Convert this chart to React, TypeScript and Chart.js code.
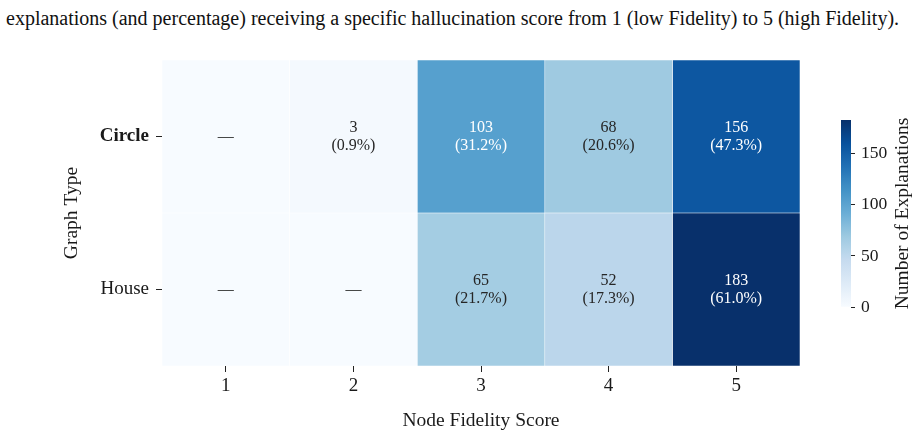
import React, { useEffect, useRef } from 'react';
import { Chart, registerables } from 'chart.js';

Chart.register(...registerables);

const caption =
  'explanations (and percentage) receiving a specific hallucination score from 1 (low Fidelity) to 5 (high Fidelity).';
const graphTypes = ['Circle', 'House'];
const scores = [1, 2, 3, 4, 5];
const circleCounts = [0, 3, 103, 68, 156];
const houseCounts = [0, 0, 65, 52, 183];
const colorbarTicks = [0, 50, 100, 150];
const xTitle = 'Node Fidelity Score';
const yTitle = 'Graph Type';
const cbTitle = 'Number of Explanations';

const rows = [circleCounts, houseCounts];
const vmax = Math.max(...rows.flat());
const totals = rows.map((r) => r.reduce((a, b) => a + b, 0));

const FONT = "'Liberation Serif', 'Times New Roman', serif";
const TEXT = '#1a1a1a';

// matplotlib "Blues" colormap control points
const BLUES = [
  [247, 251, 255],
  [222, 235, 247],
  [198, 219, 239],
  [158, 202, 225],
  [107, 174, 214],
  [66, 146, 198],
  [33, 113, 181],
  [8, 81, 156],
  [8, 48, 107],
];

function bluesRGB(t: number): number[] {
  const tt = Math.max(0, Math.min(1, t)) * (BLUES.length - 1);
  const i = Math.min(BLUES.length - 2, Math.floor(tt));
  const f = tt - i;
  return BLUES[i].map((c, k) => Math.round(c + (BLUES[i + 1][k] - c) * f));
}
function blues(t: number): string {
  const [r, g, b] = bluesRGB(t);
  return `rgb(${r},${g},${b})`;
}
function luminance(rgb: number[]): number {
  const lin = rgb.map((c) => {
    const v = c / 255;
    return v <= 0.03928 ? v / 12.92 : Math.pow((v + 0.055) / 1.055, 2.4);
  });
  return 0.2126 * lin[0] + 0.7152 * lin[1] + 0.0722 * lin[2];
}

const annotatePlugin = {
  id: 'annot',
  afterDatasetsDraw(chart: any) {
    const ctx = chart.ctx;
    ctx.save();
    ctx.font = `16px ${FONT}`;
    ctx.textAlign = 'center';
    ctx.textBaseline = 'middle';
    chart.data.datasets.forEach((_ds: any, j: number) => {
      const meta = chart.getDatasetMeta(j);
      meta.data.forEach((el: any, i: number) => {
        const { x, y, base } = el.getProps(['x', 'y', 'base'], true);
        const cx = (x + base) / 2;
        const v = rows[i][j];
        const lum = luminance(bluesRGB(v / vmax));
        ctx.fillStyle = lum > 0.408 ? '#262626' : '#ffffff';
        if (v === 0) {
          ctx.fillText('\u2014', cx, y);
        } else {
          const pct = ((v / totals[i]) * 100).toFixed(1);
          ctx.fillText(String(v), cx, y - 9);
          ctx.fillText(`(${pct}%)`, cx, y + 9);
        }
      });
    });
    ctx.restore();
  },
};

const cbTitlePlugin = {
  id: 'cbTitle',
  afterDraw(chart: any) {
    const ctx = chart.ctx;
    const area = chart.chartArea;
    ctx.save();
    ctx.font = `19.5px ${FONT}`;
    ctx.fillStyle = TEXT;
    ctx.textAlign = 'center';
    ctx.textBaseline = 'middle';
    ctx.translate(83, (area.top + area.bottom) / 2);
    ctx.rotate(-Math.PI / 2);
    ctx.fillText(cbTitle, 0, 0);
    ctx.restore();
  },
};

export default function App() {
  const mainRef = useRef<HTMLCanvasElement>(null);
  const cbRef = useRef<HTMLCanvasElement>(null);

  useEffect(() => {
    const main = new Chart(mainRef.current as HTMLCanvasElement, {
      type: 'bar',
      data: {
        labels: graphTypes,
        datasets: scores.map((s, j) => ({
          label: String(s),
          data: rows.map(() => [s - 0.5, s + 0.5]),
          backgroundColor: rows.map((r) => blues(r[j] / vmax)),
          borderColor: '#ffffff',
          borderWidth: 0.6,
          borderSkipped: false,
          grouped: false,
          barPercentage: 1,
          categoryPercentage: 1,
        })) as any,
      },
      options: {
        indexAxis: 'y',
        responsive: false,
        animation: false,
        layout: { padding: { top: 60, right: 121, bottom: 0, left: 0 } },
        plugins: {
          legend: { display: false },
          tooltip: { enabled: false },
          title: { display: false },
        },
        scales: {
          x: {
            type: 'linear',
            min: 0.5,
            max: 5.5,
            afterBuildTicks: (scale: any) => {
              scale.ticks = scores.map((v) => ({ value: v }));
            },
            grid: {
              display: true,
              drawOnChartArea: false,
              drawTicks: true,
              tickLength: 6,
              color: '#222',
              lineWidth: 1,
            },
            border: { display: false },
            ticks: {
              color: TEXT,
              font: { family: FONT, size: 19 },
              padding: 3,
              callback: (v: any) => String(v),
            },
            title: {
              display: true,
              text: xTitle,
              color: TEXT,
              font: { family: FONT, size: 19.5 },
              padding: { top: 0, bottom: 5 },
            },
            afterFit: (scale: any) => {
              scale.height = 72;
            },
          },
          y: {
            type: 'category',
            offset: true,
            grid: {
              display: true,
              offset: false,
              drawOnChartArea: false,
              drawTicks: true,
              tickLength: 6,
              color: '#222',
              lineWidth: 1,
            },
            border: { display: false },
            ticks: {
              color: TEXT,
              padding: 7,
              font: (c: any) => ({
                family: FONT,
                size: 19,
                weight: c.index === 0 ? 'bold' : 'normal',
              }),
            },
            title: {
              display: true,
              text: yTitle,
              color: TEXT,
              font: { family: FONT, size: 19.5 },
              padding: { top: 60, bottom: 0 },
            },
            afterFit: (scale: any) => {
              scale.width = 162;
            },
          },
        },
      } as any,
      plugins: [annotatePlugin],
    });

    const cb = new Chart(cbRef.current as HTMLCanvasElement, {
      type: 'bar',
      data: {
        labels: [''],
        datasets: [
          {
            data: [[0, vmax]],
            backgroundColor: (c: any) => {
              const chart = c.chart;
              const area = chart.chartArea;
              if (!area) return blues(0.5);
              const y = chart.scales.y;
              const g = chart.ctx.createLinearGradient(0, y.getPixelForValue(0), 0, y.getPixelForValue(vmax));
              for (let k = 0; k <= 32; k++) g.addColorStop(k / 32, blues(k / 32));
              return g;
            },
            borderWidth: 0,
            barPercentage: 1,
            categoryPercentage: 1,
          },
        ] as any,
      },
      options: {
        responsive: false,
        animation: false,
        layout: { padding: { left: 21, top: 30, bottom: 33, right: 0 } },
        plugins: { legend: { display: false }, tooltip: { enabled: false } },
        scales: {
          x: { display: false },
          y: {
            position: 'right',
            min: 0,
            max: vmax,
            afterBuildTicks: (scale: any) => {
              scale.ticks = colorbarTicks.map((v) => ({ value: v }));
            },
            grid: {
              display: true,
              drawOnChartArea: false,
              drawTicks: true,
              tickLength: 4,
              color: '#222',
            },
            border: { display: false },
            ticks: { color: TEXT, font: { family: FONT, size: 17.5 }, padding: 6 },
            afterFit: (scale: any) => {
              scale.width = 70;
            },
          },
        },
      } as any,
      plugins: [cbTitlePlugin],
    });

    return () => {
      main.destroy();
      cb.destroy();
    };
  }, []);

  return (
    <div
      style={{
        position: 'fixed',
        left: 0,
        top: 0,
        width: 921,
        height: 438,
        background: '#ffffff',
        overflow: 'hidden',
      }}
    >
      <div
        style={{
          position: 'absolute',
          left: 6,
          top: 7,
          fontFamily: FONT,
          fontSize: 20,
          lineHeight: '22px',
          color: '#111',
          whiteSpace: 'nowrap',
        }}
      >
        {caption}
      </div>
      <canvas ref={mainRef} width={921} height={438} style={{ position: 'absolute', left: 0, top: 0 }} />
      <canvas ref={cbRef} width={101} height={250} style={{ position: 'absolute', left: 820, top: 90 }} />
    </div>
  );
}
